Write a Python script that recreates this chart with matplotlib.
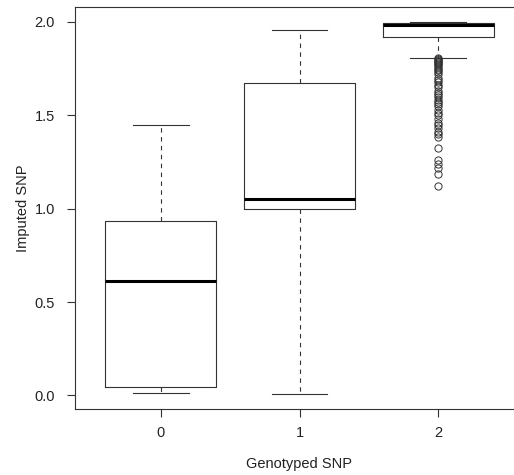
import matplotlib
matplotlib.use('Agg')
import matplotlib.pyplot as plt

# Genotyped SNP groups
groups = ['0', '1', '2']

# Box statistics (imputed SNP dosage)
whisker_low = [0.012, 0.007, 1.807]
q1 = [0.044, 1.000, 1.918]
median = [0.615, 1.053, 1.982]
q3 = [0.932, 1.672, 1.992]
whisker_high = [1.449, 1.959, 2.000]

# Outliers below the lower whisker of group 2
outliers_2 = [1.805, 1.800, 1.795, 1.790, 1.785, 1.780, 1.775, 1.770, 1.760,
              1.750, 1.740, 1.730, 1.720, 1.700, 1.690, 1.680, 1.660, 1.650,
              1.630, 1.620, 1.610, 1.600, 1.580, 1.570, 1.560, 1.550, 1.530,
              1.510, 1.500, 1.480, 1.460, 1.450, 1.430, 1.410, 1.400, 1.385,
              1.325, 1.262, 1.240, 1.218, 1.185, 1.119]
outliers = [[], [], outliers_2]

plt.rcParams['font.family'] = ['Liberation Sans', 'DejaVu Sans']

# Build stats for bxp
stats = []
for i in range(len(groups)):
    stats.append({
        'label': groups[i],
        'whislo': whisker_low[i],
        'q1': q1[i],
        'med': median[i],
        'q3': q3[i],
        'whishi': whisker_high[i],
        'fliers': outliers[i],
    })

fig = plt.figure(figsize=(5.14, 4.75), dpi=100)
ax = fig.add_axes([75 / 514, 66 / 475, 449 / 514, 402 / 475])

line_col = '#333333'
ax.bxp(stats, positions=range(len(groups)), widths=0.8,
       boxprops=dict(color=line_col, linewidth=0.8),
       medianprops=dict(color='black', linewidth=2.2, solid_capstyle='butt'),
       whiskerprops=dict(color=line_col, linewidth=0.8, linestyle=(0, (4, 4))),
       capprops=dict(color=line_col, linewidth=0.8),
       flierprops=dict(marker='o', markerfacecolor='none', markeredgecolor=line_col,
                       markersize=5.2, markeredgewidth=0.7),
       capwidths=0.4)

# Set axis limits like R's 4% padding
ax.set_xlim(-0.62, 2.62)
ax.set_ylim(-0.073, 2.08)

ax.set_xticks(range(len(groups)))
ax.set_xticklabels(groups)
ax.set_yticks([0.0, 0.5, 1.0, 1.5, 2.0])
ax.set_yticklabels(['0.0', '0.5', '1.0', '1.5', '2.0'])

ax.tick_params(axis='both', direction='out', length=5.5, width=0.8,
               color=line_col, labelsize=10.5, labelcolor='#222222')
ax.tick_params(axis='y', pad=9)
ax.tick_params(axis='x', pad=7)

for spine in ax.spines.values():
    spine.set_color(line_col)
    spine.set_linewidth(0.8)
# right edge of the plot box lies outside the image
ax.spines['right'].set_visible(False)

ax.set_xlabel('Genotyped SNP', fontsize=10.5, color='#222222', labelpad=12)
ax.set_ylabel('Imputed SNP', fontsize=10.5, color='#222222', labelpad=3)

plt.savefig('out.png', dpi=100)
